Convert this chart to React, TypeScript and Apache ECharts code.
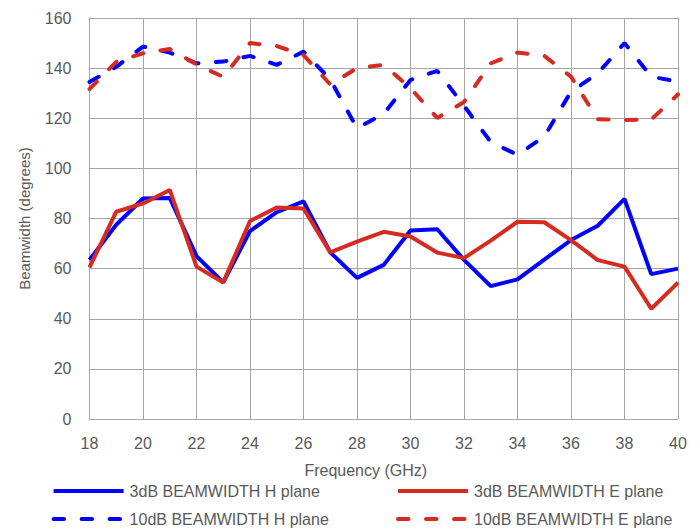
import React, { useEffect, useRef } from "react";
import * as echarts from "echarts";

const freqs = [18, 19, 20, 21, 22, 23, 24, 25, 26, 27, 28, 29, 30, 31, 32, 33, 34, 35, 36, 37, 38, 39, 40];
const h3dB = [63.5, 77.5, 88, 88.2, 65, 54.5, 75, 82.5, 86.8, 66.5, 56.3, 61.5, 75.2, 75.7, 63.5, 53, 55.7, 63.6, 71.4, 77.1, 87.8, 57.8, 60];
const e3dB = [60.5, 82.7, 86, 91.4, 60.8, 54.5, 79, 84.4, 84, 66.5, 70.8, 74.7, 72.8, 66.4, 64.2, 71.2, 78.7, 78.5, 71.4, 63.4, 60.8, 44, 54.4];
const h10dB = [134.5, 140.5, 148.6, 146.2, 141.9, 142.6, 144.9, 141.3, 146.6, 135.5, 116, 121.8, 135.3, 138.9, 125, 110.5, 105.4, 112.7, 130.6, 137.9, 150, 136.6, 134.6];
const e10dB = [131.6, 142.5, 145.9, 147.6, 141.5, 136.5, 150, 148.8, 145.2, 133.5, 140, 141.3, 132, 120.1, 126.5, 141.9, 146.2, 144.9, 136.6, 119.6, 119.3, 119.5, 129.5];

const names = [
  "3dB BEAMWIDTH H plane",
  "3dB BEAMWIDTH E plane",
  "10dB BEAMWIDTH H plane",
  "10dB BEAMWIDTH E plane",
];

const BLUE = "#0000ff";
const RED = "#d62b20";
const TXT = "#595959";
const GRID = "#a6a6a6";
const FONT = "Liberation Sans";
const FS = 16;
const DASH = [10.5, 17.5];

export default function App() {
  const ref = useRef<HTMLDivElement>(null);
  useEffect(() => {
    if (!ref.current) return;
    const chart = echarts.init(ref.current, undefined, { renderer: "svg" });
    const mk = (name: string, data: number[], color: string, dashed: boolean) => ({
      name,
      type: "line",
      data: freqs.map((f, i) => [f, data[i]]),
      symbol: "none",
      showSymbol: false,
      lineStyle: {
        color,
        width: 4,
        type: dashed ? DASH : "solid",
        cap: dashed ? "round" : "butt",
      },
      itemStyle: { color },
      z: dashed ? 2 : 3,
    });
    const legendBase = (dashed: boolean) => ({
      itemWidth: 70,
      itemHeight: 16,
      itemGap: 0,
      padding: 0,
      itemStyle: { opacity: 0 },
      lineStyle: { width: 4, type: dashed ? DASH : "solid", cap: dashed ? "round" : "butt" },
      textStyle: { color: TXT, fontSize: FS, fontFamily: FONT, lineHeight: 16, padding: [0, 0, 0, 1] },
    });
    chart.setOption({
      animation: false,
      textStyle: { fontFamily: FONT },
      grid: { left: 89.5, right: 22, top: 18, bottom: 110, containLabel: false },
      legend: [
        { ...legendBase(false), data: [names[0]], left: 51.6, top: 483 },
        { ...legendBase(false), data: [names[1]], left: 396, top: 483 },
        { ...legendBase(true), data: [names[2]], left: 51.6, top: 511 },
        { ...legendBase(true), data: [names[3]], left: 396, top: 511 },
      ],
      xAxis: {
        type: "value",
        min: 18,
        max: 40,
        interval: 2,
        name: "Frequency (GHz)",
        nameLocation: "middle",
        nameGap: 43,
        nameTextStyle: { color: TXT, fontSize: FS, fontFamily: FONT, padding: [0, 36, 0, 0] },
        axisLine: { show: true, lineStyle: { color: GRID, width: 1 } },
        axisTick: { show: false },
        axisLabel: { color: TXT, fontSize: FS, fontFamily: FONT, margin: 16 },
        splitLine: { show: true, lineStyle: { color: GRID, width: 1 } },
      },
      yAxis: {
        type: "value",
        min: 0,
        max: 160,
        interval: 20,
        name: "Beamwidth (degrees)",
        nameLocation: "middle",
        nameGap: 58,
        nameTextStyle: { color: TXT, fontSize: FS - 1, fontFamily: FONT },
        axisLine: { show: true, lineStyle: { color: GRID, width: 1 } },
        axisTick: { show: false },
        axisLabel: { color: TXT, fontSize: FS, fontFamily: FONT, margin: 18 },
        splitLine: { show: true, lineStyle: { color: GRID, width: 1 } },
      },
      series: [
        mk(names[2], h10dB, BLUE, true),
        mk(names[3], e10dB, RED, true),
        mk(names[0], h3dB, BLUE, false),
        mk(names[1], e3dB, RED, false),
      ],
    });
    return () => chart.dispose();
  }, []);
  return <div ref={ref} style={{ width: 700, height: 529, position: "absolute", left: 0, top: 0 }} />;
}
